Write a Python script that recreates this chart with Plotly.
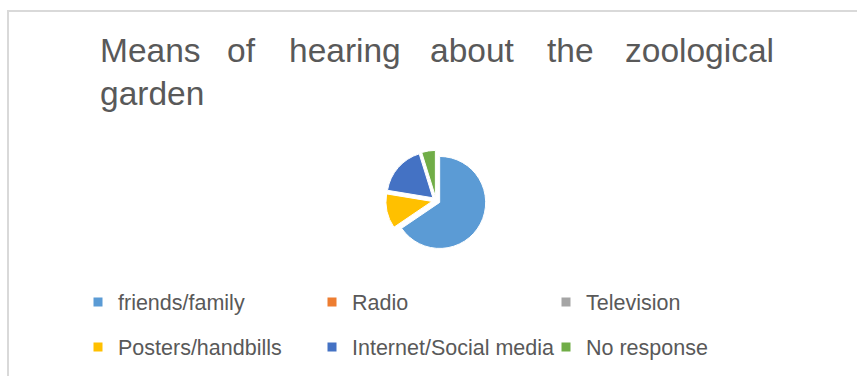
import plotly.graph_objects as go

W, H = 857, 376

labels = ["friends/family", "Radio", "Television", "Posters/handbills",
          "Internet/Social media", "No response"]
values = [65.5, 0, 0, 12.1, 17.6, 4.8]
colors = ["#5B9BD5", "#ED7D31", "#A5A5A5", "#FFC000", "#4472C4", "#70AD47"]

title_line1 = ["Means", "of", "hearing", "about", "the", "zoological"]
title_line1_x = [98, 225, 287, 428, 545, 623]
title_line2 = ["garden"]
title_line2_x = [98]

FONT = "Liberation Sans, Arial, sans-serif"
GRAY = "#595959"
TSIZE = 33.5

# pie geometry (pixels)
cx, cy, r, pull = 436, 200.5, 46, 0.09
half = r * (1 + pull)

fig = go.Figure()
fig.add_trace(go.Pie(
    labels=labels, values=values, sort=False, direction="clockwise",
    rotation=0, pull=[pull] * len(values),
    marker=dict(colors=colors, line=dict(color="white", width=1)),
    textinfo="none", hoverinfo="label+value", showlegend=False,
    domain=dict(x=[(cx - half) / W, (cx + half) / W],
                y=[1 - (cy + half) / H, 1 - (cy - half) / H]),
))

for i, (lab, col) in enumerate(zip(labels, colors)):
    fig.add_trace(go.Scatter(
        x=[None], y=[None], mode="markers", name=lab,
        marker=dict(symbol="square", size=9, color=col),
        legend="legend" if i < 3 else "legend2", hoverinfo="skip",
    ))

annos = []
for words, xs, base in [(title_line1, title_line1_x, 62), (title_line2, title_line2_x, 105)]:
    for w_, x_ in zip(words, xs):
        annos.append(dict(text=w_, x=x_ / W, y=1 - (base - 0.33 * TSIZE) / H,
                          xref="paper", yref="paper",
                          xanchor="left", yanchor="middle", showarrow=False,
                          font=dict(family=FONT, size=TSIZE, color=GRAY)))

leg_common = dict(orientation="h", xanchor="left", yanchor="middle",
                  entrywidth=189, entrywidthmode="pixels",
                  font=dict(family=FONT, size=21.5, color=GRAY),
                  bgcolor="rgba(0,0,0,0)", itemclick=False, itemdoubleclick=False)

fig.update_layout(
    width=W, height=H, margin=dict(l=0, r=0, t=0, b=0),
    paper_bgcolor="white", plot_bgcolor="white",
    xaxis=dict(visible=False), yaxis=dict(visible=False),
    annotations=annos,
    legend=dict(x=78 / W, y=1 - 302 / H, **leg_common),
    legend2=dict(x=78 / W, y=1 - 347 / H, **leg_common),
    shapes=[dict(type="rect", xref="paper", yref="paper",
                 x0=8 / W, x1=1.2, y0=-0.2, y1=1 - 11 / H,
                 line=dict(color="#D9D9D9", width=2), fillcolor="rgba(0,0,0,0)",
                 layer="below")],
)

fig.write_html("out.html")
